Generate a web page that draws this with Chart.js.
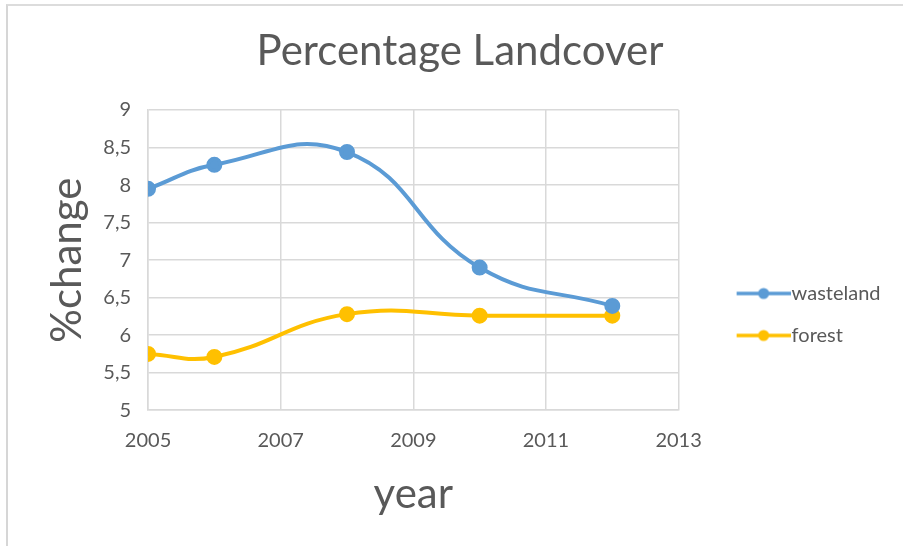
<!DOCTYPE html>
<html>
<head>
<meta charset="utf-8">
<title>Percentage Landcover</title>
<script src="https://cdn.jsdelivr.net/npm/chart.js@4.4.1/dist/chart.umd.min.js"></script>
<style>
  html, body { margin: 0; padding: 0; background: #ffffff; }
  #wrap { position: relative; width: 903px; height: 546px; overflow: hidden; }
  #frame { position: absolute; left: 6px; top: 4px; width: 940px; height: 600px;
           border-left: 2px solid #d6d6d6; border-top: 2px solid #dcdcdc; pointer-events: none; }
  canvas { display: block; }
</style>
</head>
<body>
<div id="wrap">
  <canvas id="chart" width="903" height="546"></canvas>
  <div id="frame"></div>
</div>
<script>
// Survey years and the share of each land cover class (%)
const years = [2005, 2006, 2008, 2010, 2012];
const wasteland = [7.95, 8.27, 8.44, 6.90, 6.39];
const forest = [5.75, 5.71, 6.28, 6.26, 6.26];

const seriesNames = ['wasteland', 'forest'];
const seriesColors = ['#5B9BD5', '#FFC000'];

const xTicks = [2005, 2007, 2009, 2011, 2013];
const yTicks = [5, 5.5, 6, 6.5, 7, 7.5, 8, 8.5, 9];

const FONT = 'Lato, "Open Sans", sans-serif';
const TEXT = '#595959';
const GRID = '#d9d9d9';

// Legend key: a short line with a round marker in the middle
function legendIcon(color) {
  const c = document.createElement('canvas');
  c.width = 99; c.height = 14;
  const g = c.getContext('2d');
  g.strokeStyle = color;
  g.lineWidth = 3.5;
  g.beginPath();
  g.moveTo(45, 7); g.lineTo(99, 7);
  g.stroke();
  g.fillStyle = color;
  g.beginPath();
  g.arc(72, 7, 5.5, 0, Math.PI * 2);
  g.fill();
  return c;
}
const legendIcons = seriesColors.map(legendIcon);

function toPoints(values) {
  return years.map((yr, i) => ({ x: yr, y: values[i] }));
}

function lineDataset(label, values, color) {
  return {
    label: label,
    data: toPoints(values),
    borderColor: color,
    backgroundColor: color,
    borderWidth: 4,
    pointRadius: 6,
    pointHoverRadius: 6,
    pointBackgroundColor: color,
    pointBorderColor: color,
    tension: 0.45,
    fill: false
  };
}

const ctx = document.getElementById('chart').getContext('2d');
new Chart(ctx, {
  type: 'line',
  data: {
    datasets: [
      lineDataset(seriesNames[0], wasteland, seriesColors[0]),
      lineDataset(seriesNames[1], forest, seriesColors[1])
    ]
  },
  options: {
    responsive: false,
    animation: false,
    devicePixelRatio: 1,
    layout: { padding: { left: 29.5, right: 12.5, top: 0, bottom: 33 } },
    plugins: {
      tooltip: { enabled: false },
      title: {
        display: true,
        text: 'Percentage Landcover',
        color: TEXT,
        font: { family: FONT, size: 42, weight: 'normal' },
        padding: { top: 26.6, bottom: 33 }
      },
      legend: {
        display: true,
        position: 'right',
        align: 'start',
        title: { display: true, text: '', font: { size: 10 }, padding: { top: 249.5, bottom: 0 } },
        labels: {
          color: TEXT,
          font: { family: FONT, size: 20 },
          usePointStyle: true,
          pointStyleWidth: 81,
          padding: 22,
          generateLabels(chart) {
            const items = Chart.defaults.plugins.legend.labels.generateLabels(chart);
            items.forEach((it, i) => { it.pointStyle = legendIcons[i]; });
            return items;
          }
        }
      }
    },
    scales: {
      x: {
        type: 'linear',
        min: xTicks[0],
        max: xTicks[xTicks.length - 1],
        afterBuildTicks(scale) { scale.ticks = xTicks.map(v => ({ value: v })); },
        ticks: {
          color: TEXT,
          font: { family: FONT, size: 20 },
          padding: 18,
          maxRotation: 0,
          callback: v => String(v)
        },
        grid: { color: GRID, lineWidth: 1.5, drawTicks: false },
        border: { color: GRID, width: 1.5 },
        title: {
          display: true,
          text: 'year',
          color: TEXT,
          font: { family: FONT, size: 42, lineHeight: 0.9 },
          padding: { top: 5, bottom: 0 }
        }
      },
      y: {
        type: 'linear',
        min: yTicks[0],
        max: yTicks[yTicks.length - 1],
        afterBuildTicks(scale) { scale.ticks = yTicks.map(v => ({ value: v })); },
        ticks: {
          color: TEXT,
          font: { family: FONT, size: 20 },
          padding: 17,
          callback: v => String(v).replace('.', ',')
        },
        grid: { color: GRID, lineWidth: 1.5, drawTicks: false },
        border: { color: GRID, width: 1.5 },
        title: {
          display: true,
          text: '%change',
          color: TEXT,
          font: { family: FONT, size: 42, lineHeight: 0.9 },
          padding: { top: 19, bottom: 0 }
        }
      }
    }
  }
});
</script>
</body>
</html>
